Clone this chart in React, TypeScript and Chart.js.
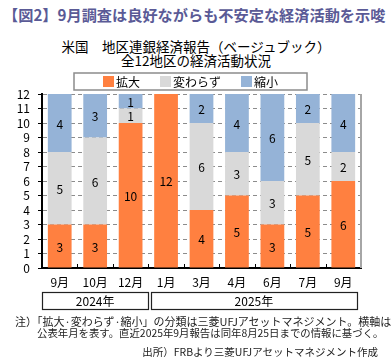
import React, { useEffect, useRef } from "react";
import { Chart, registerables } from "chart.js";

Chart.register(...registerables);

const categories = ["9月", "10月", "12月", "1月", "3月", "4月", "6月", "7月", "9月"];
const yearLabels = ["2024年", "2025年"];
const yearSpans = [3, 6];
const expandValues = [3, 3, 10, 12, 4, 5, 3, 5, 6];
const unchangedValues = [5, 6, 1, 0, 6, 3, 3, 5, 2];
const shrinkValues = [4, 3, 1, 0, 2, 4, 6, 2, 4];
const seriesNames = ["拡大", "変わらず", "縮小"];
const seriesColors = ["#FF8040", "#D9D9D9", "#95B3D7"];
const yMin = 0;
const yMax = 12;

const FONT = '"Noto Sans CJK JP", "Noto Sans", sans-serif';

const labelPlugin = {
  id: "segLabels",
  afterDatasetsDraw(chart: any) {
    const ctx = chart.ctx;
    ctx.save();
    ctx.font = `12px ${FONT}`;
    ctx.fillStyle = "#000";
    ctx.textAlign = "center";
    ctx.textBaseline = "middle";
    chart.data.datasets.forEach((ds: any, di: number) => {
      const meta = chart.getDatasetMeta(di);
      meta.data.forEach((el: any, i: number) => {
        const v = ds.data[i];
        if (!v) return;
        const { x, y, base } = el.getProps(["x", "y", "base"], true);
        ctx.fillText(String(v), x, (y + base) / 2 + 1);
      });
    });
    ctx.restore();
  },
};

const decorPlugin = {
  id: "decor",
  afterDraw(chart: any) {
    const ctx = chart.ctx;
    const area = chart.chartArea;
    const xs = chart.scales.x;
    const n = categories.length;
    const cw = (area.right - area.left) / n;
    ctx.save();
    // right frame
    ctx.strokeStyle = "#A6A6A6";
    ctx.lineWidth = 2;
    ctx.beginPath();
    ctx.moveTo(area.right, area.top);
    ctx.lineTo(area.right, area.bottom);
    ctx.stroke();
    // small ticks at category boundaries
    ctx.strokeStyle = "#000";
    ctx.lineWidth = 1;
    for (let i = 1; i < n; i++) {
      const bx = Math.round(xs.getPixelForValue(i) - cw / 2) + 0.5;
      ctx.beginPath();
      ctx.moveTo(bx, area.bottom);
      ctx.lineTo(bx, area.bottom - 4);
      ctx.stroke();
    }
    // year group boxes
    let start = 0;
    const top = area.bottom + 24;
    const h = 17;
    ctx.font = `12px ${FONT}`;
    ctx.fillStyle = "#000";
    ctx.textAlign = "center";
    ctx.textBaseline = "middle";
    yearLabels.forEach((lab, gi) => {
      const span = yearSpans[gi];
      let left = xs.getPixelForValue(start) - cw / 2;
      let right = xs.getPixelForValue(start + span - 1) + cw / 2;
      if (gi > 0) left += 2.5;
      if (gi === yearLabels.length - 1) right -= 4;
      ctx.strokeStyle = "#222";
      ctx.lineWidth = 1.2;
      ctx.strokeRect(Math.round(left) + 0.5, top + 0.5, Math.round(right - left), h);
      ctx.fillText(lab, (left + right) / 2, top + h / 2 + 1);
      start += span;
    });
    // legend
    ctx.font = `12px ${FONT}`;
    ctx.textAlign = "left";
    const sq = 11;
    const gapText = 2;
    const gapItem = 20;
    const widths = seriesNames.map((s) => sq + gapText + ctx.measureText(s).width);
    const total = widths.reduce((a, b) => a + b, 0) + gapItem * (seriesNames.length - 1);
    const cx = 190.5;
    const ly = 81.5;
    ctx.strokeStyle = "#8C8C8C";
    ctx.lineWidth = 1.5;
    ctx.strokeRect(74, 73, 233, 17);
    let lx = cx - total / 2;
    seriesNames.forEach((s, i) => {
      ctx.fillStyle = seriesColors[i];
      ctx.fillRect(lx, ly - sq / 2, sq, sq);
      ctx.fillStyle = "#000";
      ctx.fillText(s, lx + sq + gapText, ly + 1);
      lx += widths[i] + gapItem;
    });
    ctx.restore();
  },
};

export default function App() {
  const ref = useRef<HTMLCanvasElement | null>(null);
  useEffect(() => {
    if (!ref.current) return;
    const chart = new Chart(ref.current, {
      type: "bar",
      data: {
        labels: categories,
        datasets: [
          { label: seriesNames[0], data: expandValues, backgroundColor: seriesColors[0] },
          { label: seriesNames[1], data: unchangedValues, backgroundColor: seriesColors[1] },
          { label: seriesNames[2], data: shrinkValues, backgroundColor: seriesColors[2] },
        ],
      },
      options: {
        animation: false,
        responsive: true,
        maintainAspectRatio: false,
        layout: { padding: { left: 0, right: 31, top: 94, bottom: 0 } },
        datasets: { bar: { barPercentage: 0.67, categoryPercentage: 1, borderWidth: 0 } },
        plugins: { legend: { display: false }, title: { display: false }, tooltip: { enabled: false } },
        scales: {
          x: {
            stacked: true,
            afterFit: (s: any) => { s.height = 92; },
            grid: { display: false, drawTicks: false },
            border: { display: true, color: "#000", width: 2 },
            ticks: { color: "#000", font: { family: FONT, size: 12 }, padding: 7, maxRotation: 0, autoSkip: false },
          },
          y: {
            stacked: true,
            min: yMin,
            max: yMax,
            afterFit: (s: any) => { s.width = 42; },
            grid: { color: "#8C8C8C", lineWidth: 1, drawTicks: true, tickLength: 4, tickColor: "#000", tickBorderDash: [] },
            border: { display: true, color: "#000", width: 2, dash: [4, 3] },
            ticks: { stepSize: 1, autoSkip: false, color: "#000", font: { family: FONT, size: 12 }, padding: 8 },
          },
        },
      },
      plugins: [labelPlugin, decorPlugin],
    } as any);
    return () => chart.destroy();
  }, []);

  return (
    <div style={{ position: "absolute", left: 0, top: 0, width: 392, height: 360, background: "#fff", fontFamily: FONT }}>
      <div style={{ position: "absolute", left: 3, top: 4, fontSize: 15.2, fontWeight: "bold", color: "#5A5A96", whiteSpace: "nowrap", lineHeight: "20px" }}>
        【図2】9月調査は良好ながらも不安定な経済活動を示唆
      </div>
      <div style={{ position: "absolute", left: 0, top: 39, width: 392, textAlign: "center", fontSize: 13.5, lineHeight: "14px", color: "#000", whiteSpace: "nowrap" }}>
        <div>米国　地区連銀経済報告（ベージュブック）</div>
        <div>全12地区の経済活動状況</div>
      </div>
      <div style={{ position: "absolute", left: 0, top: 0, width: 392, height: 360 }}>
        <canvas ref={ref} />
      </div>
      <div style={{ position: "absolute", left: 15, top: 315, fontSize: 11, lineHeight: "12px", color: "#222", whiteSpace: "nowrap" }}>
        注）「拡大·変わらず·縮小」の分類は三菱UFJアセットマネジメント。横軸は
      </div>
      <div style={{ position: "absolute", left: 37, top: 327, fontSize: 10.4, lineHeight: "12px", color: "#222", whiteSpace: "nowrap" }}>
        公表年月を表す。直近2025年9月報告は同年8月25日までの情報に基づく。
      </div>
      <div style={{ position: "absolute", right: 14, top: 346, fontSize: 10.5, lineHeight: "12px", color: "#222", whiteSpace: "nowrap" }}>
        出所）FRBより三菱UFJアセットマネジメント作成
      </div>
    </div>
  );
}
